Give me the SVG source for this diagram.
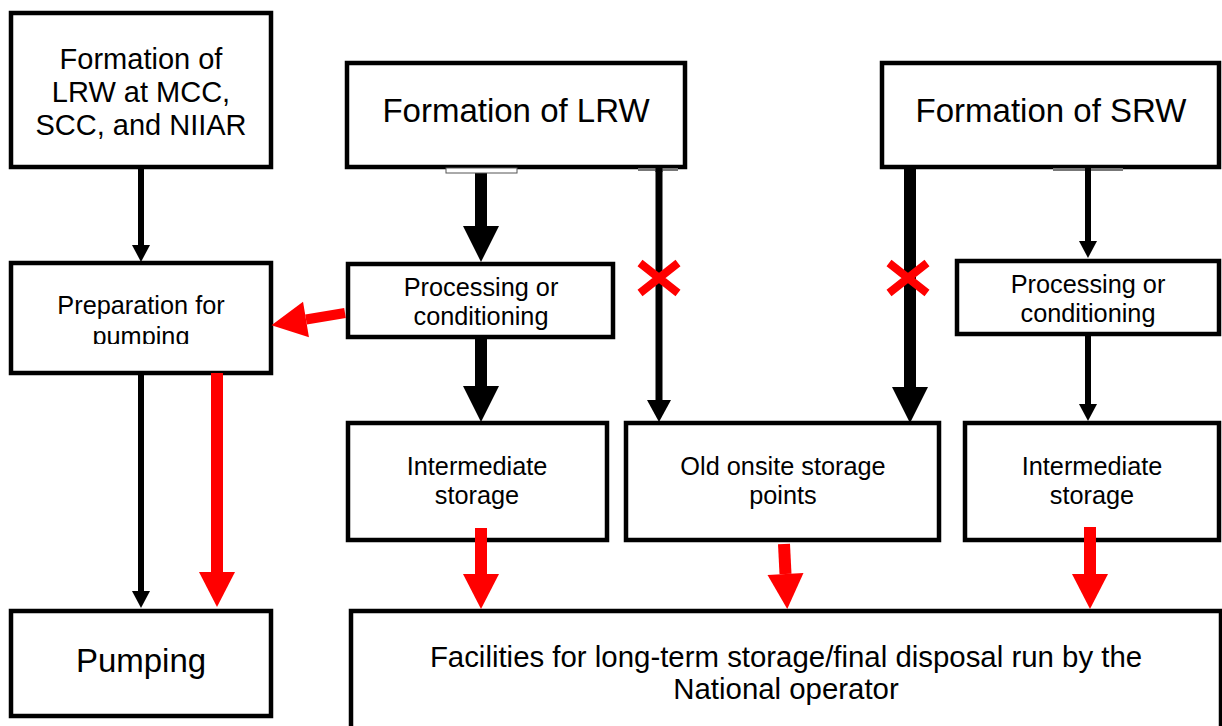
<svg xmlns="http://www.w3.org/2000/svg" width="1222" height="726" viewBox="0 0 1222 726">
<style>
.box{fill:#fff;stroke:#000;stroke-width:4.5}
.t{font-family:"Liberation Sans",Arial,sans-serif;fill:#000;text-anchor:middle}
.big{font-size:33px}
.mid{font-size:29px}
.sm{font-size:25.3px}
.fac{font-size:29.4px}
.blk{stroke:#000;fill:none}
.red{stroke:#f00;fill:none}
.x{stroke:#f00;stroke-width:8;fill:none}
</style>
<defs>
<marker id="hBig" markerUnits="userSpaceOnUse" markerWidth="36" markerHeight="36" refX="0" refY="18" orient="auto" overflow="visible"><path d="M0,0 L36,18 L0,36 Z" fill="#000"/></marker>
<marker id="hMed" markerUnits="userSpaceOnUse" markerWidth="22" markerHeight="24" refX="0" refY="12" orient="auto" overflow="visible"><path d="M0,0 L22,12 L0,24 Z" fill="#000"/></marker>
<marker id="hSm" markerUnits="userSpaceOnUse" markerWidth="17" markerHeight="18" refX="0" refY="9" orient="auto" overflow="visible"><path d="M0,0 L17,9 L0,18 Z" fill="#000"/></marker>
<marker id="hRed" markerUnits="userSpaceOnUse" markerWidth="35" markerHeight="36" refX="0" refY="18" orient="auto" overflow="visible"><path d="M0,0 L35,18 L0,36 Z" fill="#f00"/></marker>
<clipPath id="clipPrep"><rect x="10" y="263" width="262" height="81"/></clipPath>
</defs>

<g id="n-formation-mcc">
<rect class="box" x="11" y="13" width="260" height="154"/>
<text class="t mid" x="141" y="69">Formation of</text>
<text class="t mid" x="141" y="102">LRW at MCC,</text>
<text class="t mid" x="141" y="135">SCC, and NIIAR</text>
</g>
<g id="n-formation-lrw">
<rect class="box" x="347" y="63" width="338" height="104"/>
<text class="t big" x="516" y="122">Formation of LRW</text>
</g>
<g id="n-formation-srw">
<rect class="box" x="882" y="63" width="337" height="104"/>
<text class="t big" x="1051" y="122">Formation of SRW</text>
</g>
<g id="n-preparation">
<rect class="box" x="11" y="263" width="260" height="110"/>
<g clip-path="url(#clipPrep)">
<text class="t sm" x="141" y="314">Preparation for</text>
<text class="t sm" x="141" y="345">pumping</text>
</g>
</g>
<g id="n-processing-lrw">
<rect class="box" x="348" y="264" width="265" height="73"/>
<text class="t sm" x="481" y="296">Processing or</text>
<text class="t sm" x="481" y="325">conditioning</text>
</g>
<g id="n-processing-srw">
<rect class="box" x="957" y="261" width="262" height="73"/>
<text class="t sm" x="1088" y="293">Processing or</text>
<text class="t sm" x="1088" y="322">conditioning</text>
</g>
<g id="n-intermediate-lrw">
<rect class="box" x="348" y="423" width="259" height="117"/>
<text class="t sm" x="477" y="475">Intermediate</text>
<text class="t sm" x="477" y="504">storage</text>
</g>
<g id="n-old-onsite">
<rect class="box" x="626" y="423" width="313" height="117"/>
<text class="t sm" x="783" y="475">Old onsite storage</text>
<text class="t sm" x="783" y="504">points</text>
</g>
<g id="n-intermediate-srw">
<rect class="box" x="965" y="423" width="254" height="117"/>
<text class="t sm" x="1092" y="475">Intermediate</text>
<text class="t sm" x="1092" y="504">storage</text>
</g>
<g id="n-pumping">
<rect class="box" x="11" y="611" width="260" height="105"/>
<text class="t big" x="141" y="672">Pumping</text>
</g>
<g id="n-facilities">
<rect class="box" x="351" y="611" width="870" height="130"/>
<text class="t fac" x="786" y="667">Facilities for long-term storage/final disposal run by the</text>
<text class="t fac" x="786" y="699">National operator</text>
</g>

<g id="connectors">
<line class="blk" x1="141" y1="167" x2="141" y2="245" stroke-width="6" marker-end="url(#hSm)"/>
<line class="blk" x1="481" y1="170" x2="481" y2="226" stroke-width="12" marker-end="url(#hBig)"/>
<line class="blk" x1="659" y1="167" x2="659" y2="400" stroke-width="7" marker-end="url(#hMed)"/>
<line class="blk" x1="910" y1="167" x2="910" y2="387" stroke-width="12" marker-end="url(#hBig)"/>
<line class="blk" x1="1088" y1="167" x2="1088" y2="241" stroke-width="6" marker-end="url(#hSm)"/>
<line class="blk" x1="481" y1="339" x2="481" y2="386" stroke-width="12" marker-end="url(#hBig)"/>
<line class="blk" x1="1088" y1="336" x2="1088" y2="404" stroke-width="6" marker-end="url(#hSm)"/>
<line class="red" x1="345" y1="313" x2="306" y2="319.5" stroke-width="10" marker-end="url(#hRed)"/>
<line class="blk" x1="141" y1="375" x2="141" y2="591" stroke-width="6" marker-end="url(#hSm)"/>
<line class="red" x1="217" y1="373" x2="217" y2="572" stroke-width="12" marker-end="url(#hRed)"/>
<line class="red" x1="481" y1="528" x2="481" y2="574" stroke-width="12" marker-end="url(#hRed)"/>
<line class="red" x1="784" y1="544" x2="785.5" y2="574" stroke-width="12" marker-end="url(#hRed)"/>
<line class="red" x1="1090" y1="527" x2="1090" y2="574" stroke-width="12" marker-end="url(#hRed)"/>
<path class="x" d="M640,263 L678,293 M678,263 L640,293"/>
<path class="x" d="M889,263 L927,293 M927,263 L889,293"/>
<rect x="446" y="168" width="71" height="5" fill="#fff" stroke="#555" stroke-width="1"/>
<rect x="638" y="168" width="40" height="3" fill="#777"/>
<rect x="1053" y="168" width="70" height="3" fill="#777"/>
<rect x="655.5" y="168" width="7" height="4" fill="#000"/>
<rect x="1085" y="168" width="6" height="4" fill="#000"/>
</g>
</svg>
